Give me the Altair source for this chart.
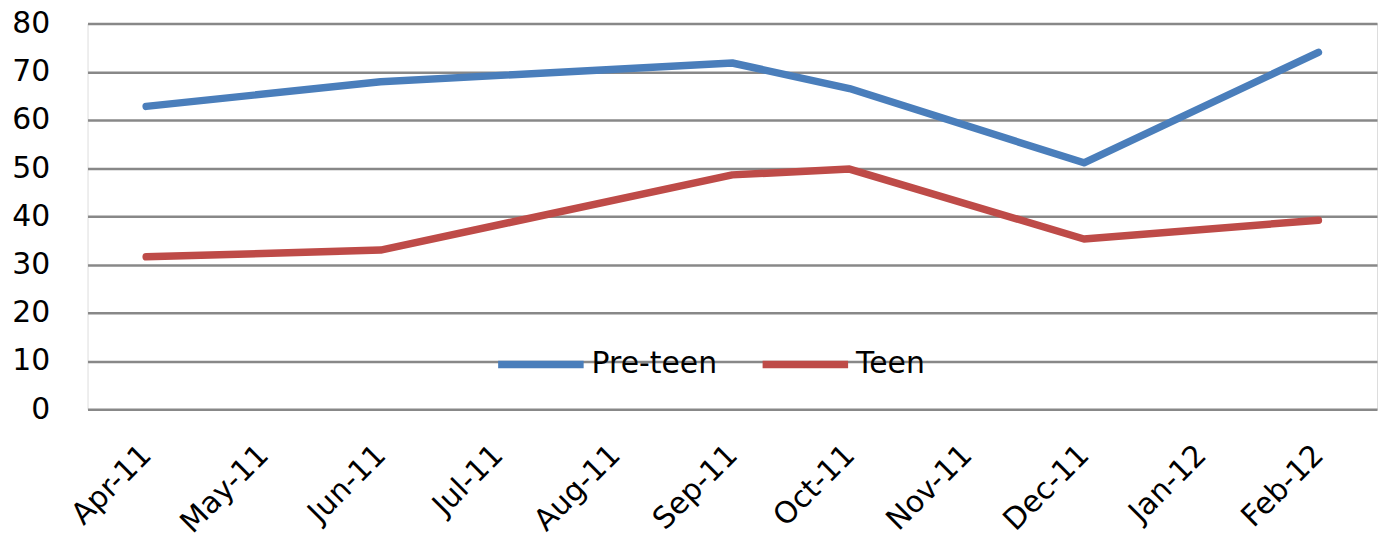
import altair as alt
import pandas as pd

months = ["Apr-11", "May-11", "Jun-11", "Jul-11", "Aug-11", "Sep-11",
          "Oct-11", "Nov-11", "Dec-11", "Jan-12", "Feb-12"]
data_months = ["Apr-11", "Jun-11", "Sep-11", "Oct-11", "Dec-11", "Feb-12"]
preteen = [62.8, 67.9, 71.8, 66.5, 51.1, 74.0]
teen = [31.6, 33.0, 48.6, 49.8, 35.3, 39.2]
series = ["Pre-teen", "Teen"]
colors = ["#4A7EBB", "#BE4B48"]

rows = []
for name, vals in zip(series, [preteen, teen]):
    for m, v in zip(data_months, vals):
        rows.append({"month": m, "idx": months.index(m), "value": v, "series": name})
df = pd.DataFrame(rows)

FONT = "DejaVu Sans"

chart = alt.Chart(df).mark_line(strokeWidth=7.5, strokeCap="round", strokeJoin="round").encode(
    x=alt.X("month:O", scale=alt.Scale(domain=months, type="point", padding=0.5),
            axis=alt.Axis(title=None, labelAngle=-45, labelAlign="right", labelBaseline="middle",
                          labelFontSize=30, labelFont=FONT, labelColor="#000000",
                          ticks=False, domain=False, grid=False, labelPadding=41,
                          labelOffset=0)),
    y=alt.Y("value:Q", scale=alt.Scale(domain=[0, 80], nice=False),
            axis=alt.Axis(title=None, values=[0, 10, 20, 30, 40, 50, 60, 70, 80],
                          labelFontSize=30, labelFont=FONT, labelColor="#000000",
                          ticks=False, domain=False, grid=True, gridColor="#888888",
                          gridWidth=2.5, labelPadding=38)),
    color=alt.Color("series:N", scale=alt.Scale(domain=series, range=colors),
                    legend=alt.Legend(title=None, orient="none", legendX=409, legendY=296,
                                      direction="horizontal", symbolType="stroke",
                                      symbolSize=7396, symbolStrokeWidth=7.5,
                                      labelFontSize=30, labelFont=FONT, labelColor="#000000",
                                      labelOffset=4, columnPadding=30)),
    order=alt.Order("idx:Q"),
).properties(
    width=1297, height=388,
    autosize=alt.AutoSizeParams(type="none"),
    padding={"left": 80, "top": 14, "right": 4, "bottom": 130},
).configure_view(stroke=None).configure(background="#ffffff")

chart.save("out.html", embed_options={"renderer": "svg", "actions": False})
